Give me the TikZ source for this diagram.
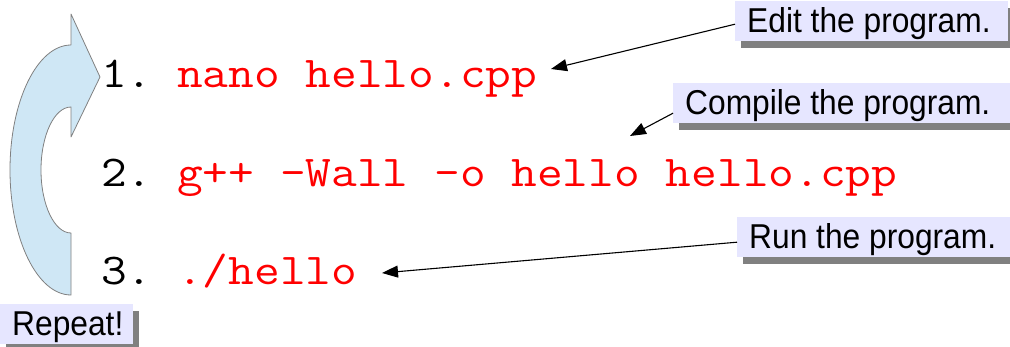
\documentclass[tikz,border=0pt]{standalone}
\usepackage{fontspec}
\usetikzlibrary{arrows.meta,shadows}
\newfontfamily\codefont[FakeStretch=1.135]{Latin Modern Mono}
\newfontfamily\labelfont[FakeStretch=0.92]{Liberation Sans}
\definecolor{boxfill}{HTML}{E6E6FF}
\definecolor{shadowgray}{HTML}{808080}
\definecolor{loopfill}{HTML}{CFE7F5}
\definecolor{codered}{HTML}{FF0000}
\newcommand{\boxtext}[2]{\makebox[#1][l]{#2}}
\tikzset{
  notebox/.style={anchor=north west, fill=boxfill, inner xsep=12pt, inner ysep=0pt,
    text height=31pt, text depth=9pt,
    font=\labelfont\fontsize{34.5}{40}\selectfont,
    drop shadow={shadow xshift=6pt, shadow yshift=-7pt, fill=shadowgray, opacity=1}},
  codeline/.style={anchor=base west, inner sep=0pt, font=\codefont\fontsize{44}{54}\selectfont},
  codetext/.style={codeline, text=codered},
  pointer/.style={draw=black, line width=1.1pt, -{Triangle[length=16pt,width=12pt]}},
  loop/.style={fill=loopfill, draw=shadowgray, line width=0.8pt, line join=round}
}
\begin{document}
\begin{tikzpicture}[x=1pt,y=-1pt]
\useasboundingbox (0,0) rectangle (1010,347);
% curved repeat arrow
\draw[loop] (100,77) -- (71,14) -- (71,45)
  .. controls (37.3,45) and (10,101) .. (10,170)
  .. controls (10,239) and (37.3,295) .. (71,295)
  -- (71,233)
  .. controls (54.4,233) and (41,204.8) .. (41,170)
  .. controls (41,135.2) and (54.4,107) .. (71,107)
  -- (71,137) -- cycle;
% code lines
\node[codeline] (k1) at (101,88) {1.};
\node[codetext] (c1) at (177,88) {nano hello.cpp};
\node[codeline] (k2) at (101,187) {2.};
\node[codetext] (c2) at (177,187) {g++ -Wall -o hello hello.cpp};
\node[codeline] (k3) at (101,285) {3.};
\node[codetext] (c3) at (177,285) {./hello};
% labels
\node[notebox] (edit) at (735,1) {\boxtext{249pt}{Edit the program.}};
\node[notebox] (compile) at (673,83) {\boxtext{330pt}{Compile the program.}};
\node[notebox] (run) at (737,217) {\boxtext{256pt}{Run the program.}};
\node[notebox] (repeat) at (0,304) {\boxtext{109pt}{Repeat!}};
% arrow targets
\coordinate (tEdit) at (551,69);
\coordinate (tCompile) at (630,136);
\coordinate (tRun) at (382,273);
\draw[pointer] ([yshift=-3pt]edit.west) -- (tEdit);
\draw[pointer] ([yshift=-10pt]compile.west) -- (tCompile);
\draw[pointer] ([yshift=-5pt]run.west) -- (tRun);
\end{tikzpicture}
\end{document}
